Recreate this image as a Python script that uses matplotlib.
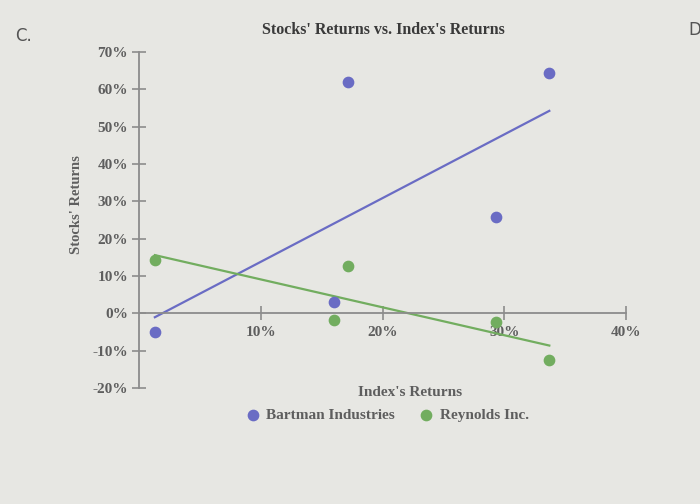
import numpy as np
import matplotlib.pyplot as plt

# index returns (%) and the two stocks' returns (%)
index_ret = [1.3, 16.0, 17.2, 29.3, 33.7]
bartman = [-5.0, 3.0, 62.0, 25.7, 64.3]
reynolds = [14.2, -1.9, 12.6, -2.4, -12.6]

x_ticks = [10, 20, 30, 40]
y_ticks = [-20, -10, 0, 10, 20, 30, 40, 50, 60, 70]

bg = "#e7e7e3"
txt = "#5e5e5e"
axc = "#8c8c8c"
blue = "#6a6cc4"
green = "#72ad5f"

plt.rcParams["font.family"] = ["Liberation Serif", "DejaVu Serif"]

fig = plt.figure(figsize=(7, 5.04), dpi=100, facecolor=bg)
ax = fig.add_axes([0.1986, 0.2302, 0.6957, 0.6667])
ax.set_facecolor(bg)

x = np.array(index_ret)
xs = np.array([x.min(), x.max()])
for ys, c in [(bartman, blue), (reynolds, green)]:
    m, b = np.polyfit(x, ys, 1)
    ax.plot(xs, m * xs + b, color=c, lw=1.6, zorder=2)

ax.scatter(index_ret, bartman, s=55, color=blue, zorder=3, label="Bartman Industries")
ax.scatter(index_ret, reynolds, s=55, color=green, zorder=3, label="Reynolds Inc.")

ax.set_xlim(0, 40)
ax.set_ylim(-20, 70)
for s in ["top", "right"]:
    ax.spines[s].set_visible(False)
ax.spines["left"].set_position(("data", 0))
ax.spines["bottom"].set_position(("data", 0))
for s in ["left", "bottom"]:
    ax.spines[s].set_color(axc)
    ax.spines[s].set_linewidth(1.3)

ax.set_xticks(x_ticks)
ax.set_xticklabels([f"{t}%" for t in x_ticks])
ax.set_yticks(y_ticks)
ax.set_yticklabels([f"{t}%" for t in y_ticks])
ax.tick_params(direction="inout", length=10, width=1.2, color=axc,
               labelcolor=txt, labelsize=11)
ax.tick_params(axis="x", pad=4)
ax.tick_params(axis="y", pad=3)
for lab in ax.get_xticklabels() + ax.get_yticklabels():
    lab.set_fontweight("bold")

fig.text(383 / 700, 1 - 30 / 504, "Stocks' Returns vs. Index's Returns",
         ha="center", va="center", fontsize=11.5, color="#3a3a3a", fontweight="bold")
fig.text(76 / 700, 1 - 205 / 504, "Stocks' Returns", rotation=90,
         ha="center", va="center", fontsize=10.5, color=txt, fontweight="bold")
fig.text(410 / 700, 1 - 393 / 504, "Index's Returns",
         ha="center", va="center", fontsize=11, color=txt, fontweight="bold")
fig.text(15 / 700, 1 - 36 / 504, "C.", fontsize=12, color="#555555",
         family="DejaVu Sans", va="center")
fig.text(688 / 700, 1 - 30 / 504, "D", fontsize=12, color="#555555",
         family="DejaVu Sans", va="center")

leg = fig.legend(loc="center", bbox_to_anchor=(383 / 700, 1 - 415 / 504), ncol=2,
                 frameon=False, handletextpad=-0.1, columnspacing=1.0,
                 prop={"size": 11, "weight": "bold"}, markerscale=1.0)
for t in leg.get_texts():
    t.set_color(txt)

fig.savefig("out.png", dpi=100, facecolor=bg)
